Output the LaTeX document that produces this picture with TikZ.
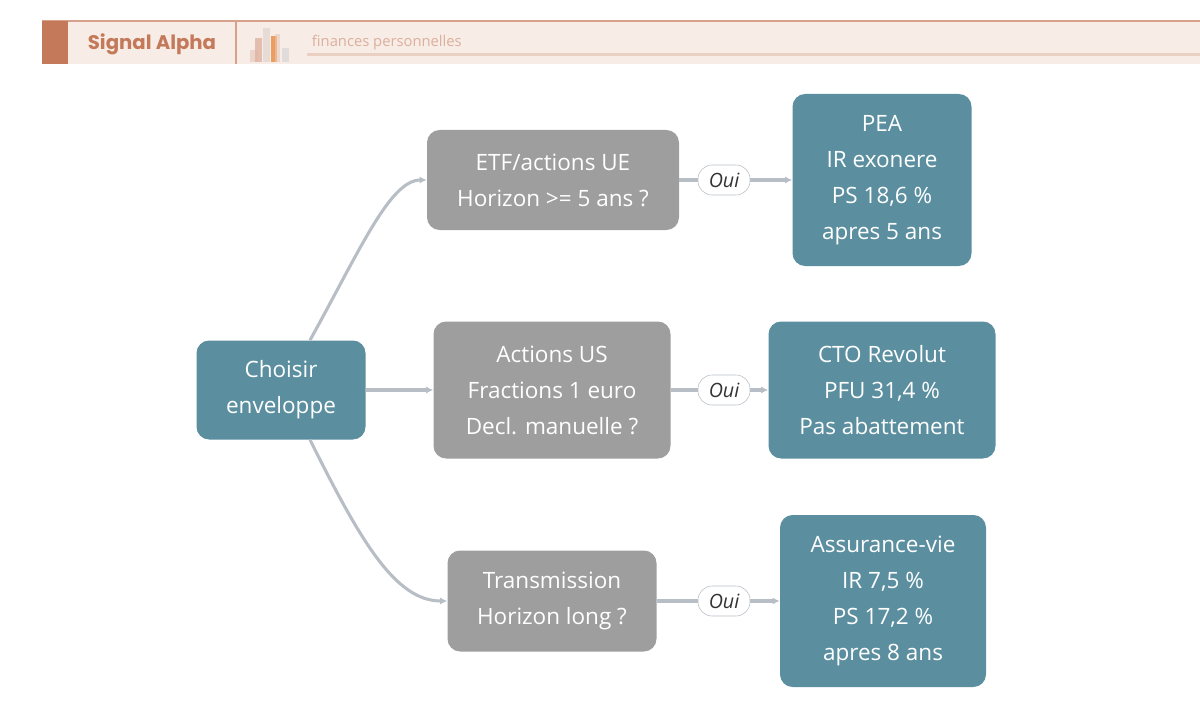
\documentclass[tikz,border=0pt]{standalone}
\usepackage{fontspec}
\setmainfont{Open Sans}
\newfontfamily\brandfont{Poppins}
\usetikzlibrary{arrows.meta}
\definecolor{tealbox}{HTML}{5B8FA0}
\definecolor{greybox}{HTML}{9E9E9E}
\definecolor{linkgrey}{HTML}{B8BEC5}
\definecolor{brand}{HTML}{C47A5A}
\definecolor{bandbg}{HTML}{F7ECE6}
\tikzset{
  box/.style={rounded corners=9pt,text=white,align=center,font=\fontsize{16}{25.6}\selectfont},
  choice/.style={box,fill=tealbox},
  question/.style={box,fill=greybox},
  link/.style={linkgrey,line width=2.2pt,-{Latex[length=5pt,width=5pt]}},
  pill/.style={draw=linkgrey,fill=white,rounded corners=10pt,text=black!80,font=\itshape\fontsize{14}{15}\selectfont,minimum width=1.3cm,minimum height=0.75cm,inner sep=1pt}
}
\begin{document}
\begin{tikzpicture}[x=0.025cm,y=-0.025cm]
  \useasboundingbox (0,0) rectangle (1200,721);
  % header band
  \fill[bandbg] (42,21) rectangle (1200,64);
  \draw[brand!70,line width=0.8pt] (42,21) -- (1200,21);
  \fill[brand] (42,21) rectangle (68,64);
  \draw[brand!70,line width=0.8pt] (236,21) -- (236,64);
  \node[text=brand,font=\brandfont\bfseries\fontsize{14}{15}\selectfont] (brandname) at (152,44) {Signal Alpha};
  \fill[brand!40,opacity=.7] (250,50) rectangle (258,62);
  \fill[brand!50!bandbg,opacity=.8] (255,38) rectangle (262,62);
  \fill[brand!20!white!80!gray,opacity=.6] (263,28) rectangle (270,62);
  \fill[orange!60!brand,opacity=.7] (271,36) rectangle (277,62);
  \fill[brand!40,opacity=.6] (275,34) rectangle (280,62);
  \fill[gray!30,opacity=.8] (282,48) rectangle (289,62);
  \fill[brand!25!bandbg] (307,53) rectangle (1200,56);
  \node[anchor=west,text=brand!60!white,font=\fontsize{10.5}{12}\selectfont] (subtitle) at (307,43) {finances personnelles};
  % nodes
  \node[choice,minimum width=169*0.025cm,minimum height=99*0.025cm] (start) at (281,390) {Choisir\\enveloppe};
  \node[question,minimum width=252*0.025cm,minimum height=100*0.025cm] (qpea) at (553,180) {ETF/actions UE\\Horizon >= 5 ans ?};
  \node[question,minimum width=237*0.025cm,minimum height=137*0.025cm] (qcto) at (552,390) {Actions US\\Fractions 1 euro\\Decl. manuelle ?};
  \node[question,minimum width=209*0.025cm,minimum height=101*0.025cm] (qav) at (552,601) {Transmission\\Horizon long ?};
  \node[choice,minimum width=179*0.025cm,minimum height=172*0.025cm] (pea) at (882,180) {PEA\\IR exonere\\PS 18,6 \%\\apres 5 ans};
  \node[choice,minimum width=227*0.025cm,minimum height=137*0.025cm] (cto) at (882,390) {CTO Revolut\\PFU 31,4 \%\\Pas abattement};
  \node[choice,minimum width=206*0.025cm,minimum height=172*0.025cm] (av) at (883,601) {Assurance-vie\\IR 7,5 \%\\PS 17,2 \%\\apres 8 ans};
  % links
  \draw[link] ([xshift=29*0.025cm]start.north) .. controls (360,250) and (390,180) .. (qpea.west);
  \draw[link] (start.east) -- (qcto.west);
  \draw[link] ([xshift=29*0.025cm]start.south) .. controls (360,540) and (395,601) .. (qav.west);
  \foreach \q/\c in {qpea/pea,qcto/cto,qav/av}{
    \draw[link] (\q.east) -- (\c.west);
    \node[pill] (oui-\c) at (724,0 |- \q.east) {Oui};
  }
\end{tikzpicture}
\end{document}
